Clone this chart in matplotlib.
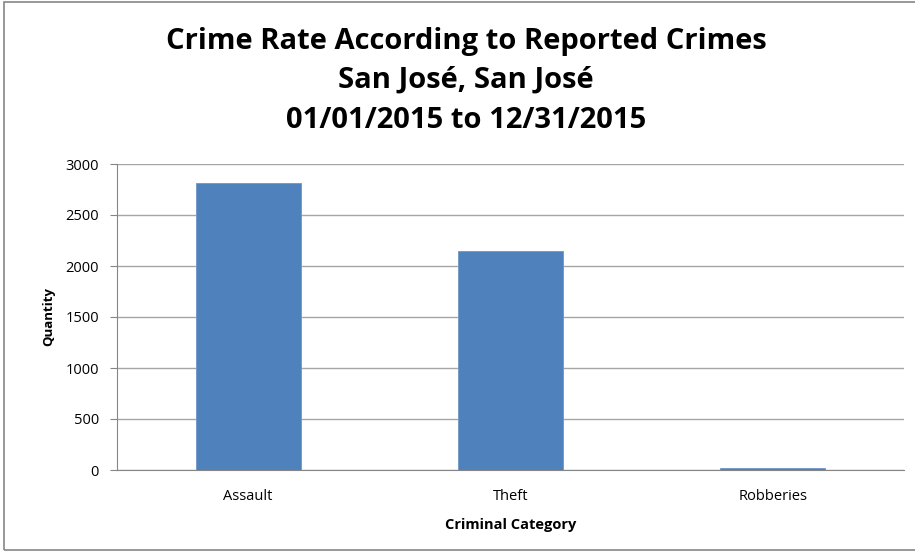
import matplotlib.pyplot as plt
from matplotlib.patches import Rectangle

categories = ['Assault', 'Theft', 'Robberies']
quantities = [2810, 2145, 15]
y_ticks = [0, 500, 1000, 1500, 2000, 2500, 3000]

plt.rcParams['font.family'] = ['Liberation Sans Narrow', 'Open Sans', 'DejaVu Sans']

fig = plt.figure(figsize=(9.15, 5.55), dpi=100)
ax = fig.add_axes([117 / 915, 1 - 470 / 555, (904 - 117) / 915, (470 - 164) / 555])

x = range(len(categories))
ax.bar(x, quantities, width=0.4, color='#4f81bd', edgecolor='#6e97c8', linewidth=0.6, zorder=3)

ax.set_xlim(-0.5, len(categories) - 0.5)
ax.set_ylim(0, 3000)
ax.set_yticks(y_ticks)
ax.set_yticklabels([str(v) for v in y_ticks], fontsize=10.5)
ax.set_xticks(list(x))
ax.set_xticklabels(categories, fontsize=10.5)
ax.tick_params(axis='x', length=0, pad=14)
ax.tick_params(axis='y', length=5, color='#868686', pad=8)

ax.grid(axis='y', color='#a6a6a6', linewidth=1, zorder=0)
for side in ['top', 'right']:
    ax.spines[side].set_visible(False)
ax.spines['left'].set_color('#868686')
ax.spines['bottom'].set_color('#868686')

ax.set_xlabel('Criminal Category', fontsize=10.5, fontweight='bold', labelpad=10)
ax.set_ylabel('Quantity', fontsize=9.5, fontweight='bold', labelpad=7)

title_lines = ['Crime Rate According to Reported Crimes', 'San José, San José', '01/01/2015 to 12/31/2015']
for line, y in zip(title_lines, [42, 80, 121]):
    fig.text(466 / 915, 1 - y / 555, line, ha='center', va='center', fontsize=21, fontweight='bold')

# chart area frame
fig.patches.append(Rectangle((4 / 915, 1 - 550 / 555), 1.2, 548 / 555, transform=fig.transFigure,
                             fill=False, edgecolor='#868686', linewidth=1.2))

fig.savefig('out.png', dpi=100)
